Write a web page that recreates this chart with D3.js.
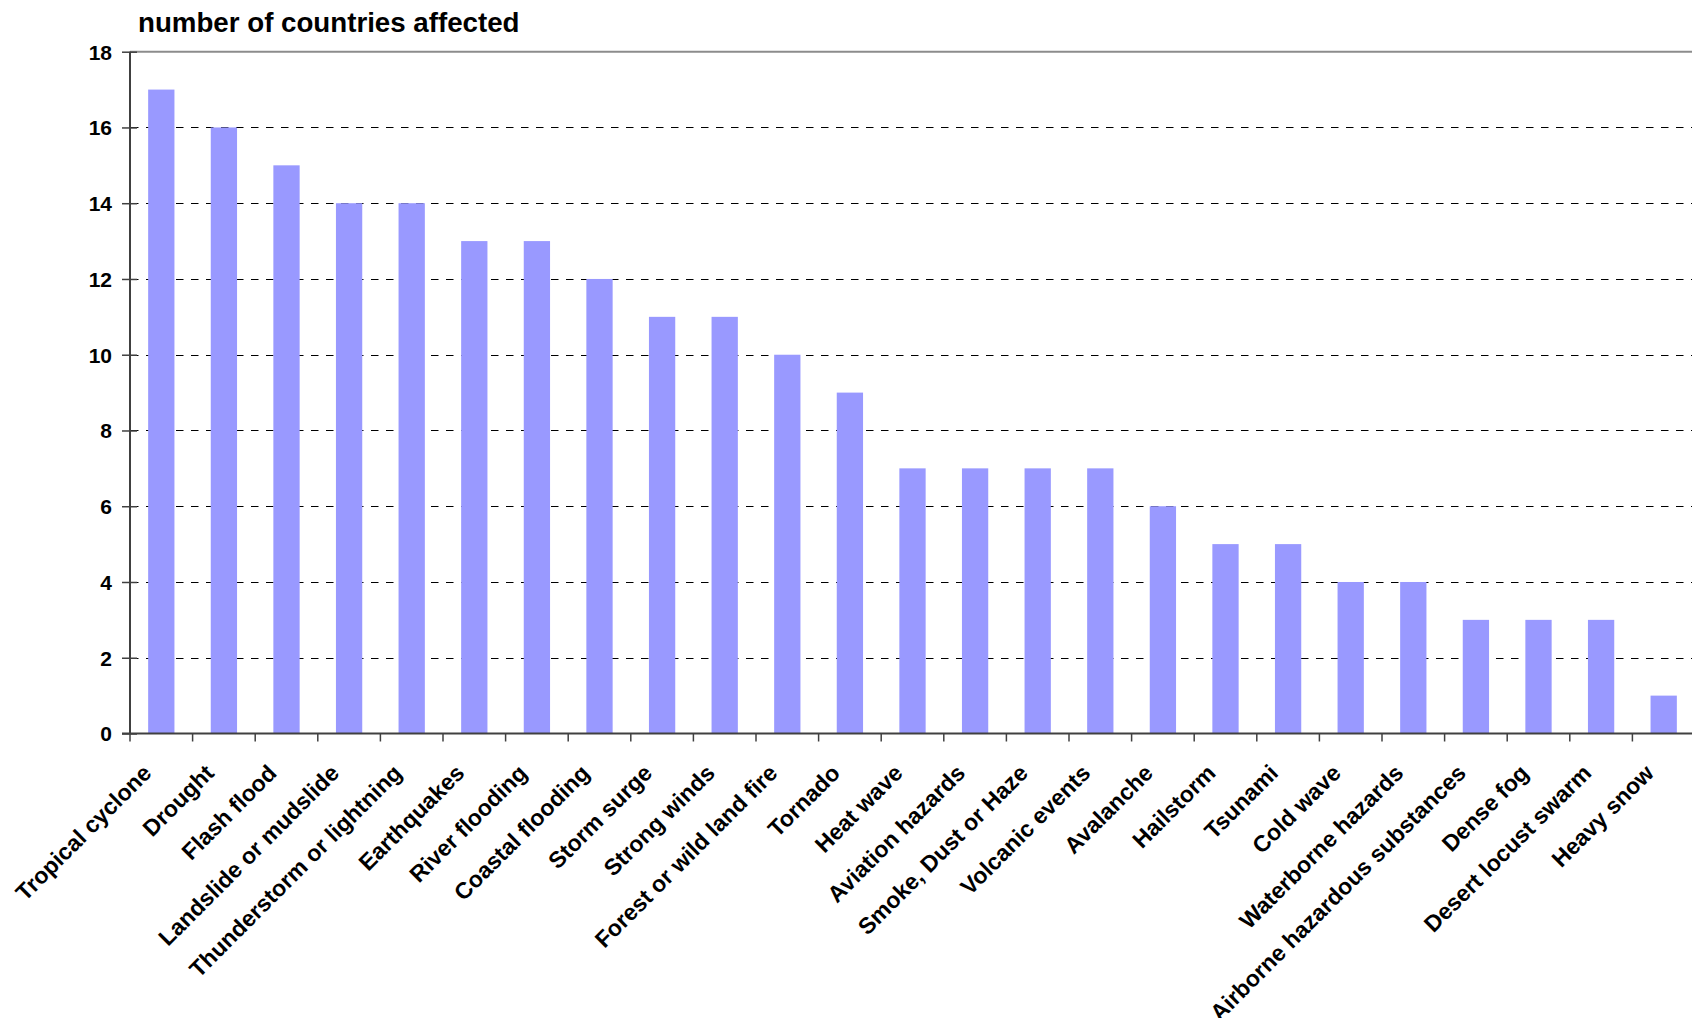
<!DOCTYPE html>
<html>
<head>
<meta charset="utf-8">
<script src="https://cdn.jsdelivr.net/npm/d3@7"></script>
<style>
  html, body { margin: 0; padding: 0; background: #fff; overflow: hidden; }
  svg { display: block; }
  text { font-family: "Liberation Sans", Arial, sans-serif; font-weight: bold; fill: #000; }
</style>
</head>
<body>
<svg id="chart" width="1692" height="1018"></svg>
<script>
const categories = [
  "Tropical cyclone", "Drought", "Flash flood", "Landslide or mudslide",
  "Thunderstorm or lightning", "Earthquakes", "River flooding", "Coastal flooding",
  "Storm surge", "Strong winds", "Forest or wild land fire", "Tornado",
  "Heat wave", "Aviation hazards", "Smoke, Dust or Haze", "Volcanic events",
  "Avalanche", "Hailstorm", "Tsunami", "Cold wave", "Waterborne hazards",
  "Airborne hazardous substances", "Dense fog", "Desert locust swarm", "Heavy snow"
];
const values = [17, 16, 15, 14, 14, 13, 13, 12, 11, 11, 10, 9, 7, 7, 7, 7, 6, 5, 5, 4, 4, 3, 3, 3, 1];
const yTicks = [0, 2, 4, 6, 8, 10, 12, 14, 16, 18];
const titleText = "number of countries affected";

(function () {
const svg = d3.select("#chart");
const pLeft = 130, pRight = 1695, pTop = 51.7, pBottom = 733.5;

const x = d3.scaleBand().domain(categories).range([pLeft, pRight]).padding(0);
const y = d3.scaleLinear().domain([0, 18]).range([pBottom, pTop]);

// gridlines
svg.append("g").selectAll("line").data(yTicks.filter(d => d > 0 && d < 18)).join("line")
  .attr("x1", pLeft).attr("x2", pRight)
  .attr("y1", d => Math.round(y(d)) + 0.5).attr("y2", d => Math.round(y(d)) + 0.5)
  .attr("stroke", "#000").attr("stroke-width", 1)
  .attr("stroke-dasharray", "7.5,7.5").attr("stroke-dashoffset", -1);

// top border
svg.append("line").attr("x1", pLeft).attr("x2", pRight)
  .attr("y1", y(18)).attr("y2", y(18))
  .attr("stroke", "#8c8c8c").attr("stroke-width", 2);

// bars
const bw = x.bandwidth() * 0.42;
svg.append("g").selectAll("rect").data(categories).join("rect")
  .attr("x", (d) => x(d) + (x.bandwidth() - bw) / 2)
  .attr("width", bw)
  .attr("y", (d, i) => y(values[i]))
  .attr("height", (d, i) => y(0) - y(values[i]))
  .attr("fill", "#9999ff");

// y axis
const yAxis = d3.axisLeft(y).tickValues(yTicks).tickSize(0).tickPadding(18).tickFormat(d3.format("d"));
const gy = svg.append("g").attr("transform", `translate(${pLeft},0)`).call(yAxis);
gy.select(".domain").attr("stroke", "#404040").attr("stroke-width", 2).attr("d", `M0,${pTop}V${pBottom}`);
gy.selectAll(".tick line").attr("x1", -8).attr("x2", 7).attr("stroke", "#404040").attr("stroke-width", 1.5);
gy.selectAll(".tick text").attr("font-size", 21).attr("font-family", "Liberation Sans, Arial, sans-serif")
  .attr("font-weight", "bold").attr("fill", "#000").attr("dy", "0.35em");

// x axis
const gx = svg.append("g");
gx.append("line").attr("x1", pLeft - 8).attr("x2", pRight).attr("y1", pBottom).attr("y2", pBottom)
  .attr("stroke", "#404040").attr("stroke-width", 2);
gx.selectAll("line.t").data(categories).join("line").attr("class", "t")
  .attr("x1", d => x(d)).attr("x2", d => x(d)).attr("y1", pBottom).attr("y2", pBottom + 8)
  .attr("stroke", "#404040").attr("stroke-width", 1.5);
gx.selectAll("text").data(categories).join("text")
  .attr("transform", d => `translate(${x(d) + x.bandwidth() / 2 - 8.5},${pBottom + 41}) rotate(-45)`)
  .attr("text-anchor", "end")
  .attr("font-size", 23)
  .text(d => d);

// title
svg.append("text").attr("x", 138).attr("y", 31.7).attr("font-size", 27.7).text(titleText);
})();
</script>
</body>
</html>
